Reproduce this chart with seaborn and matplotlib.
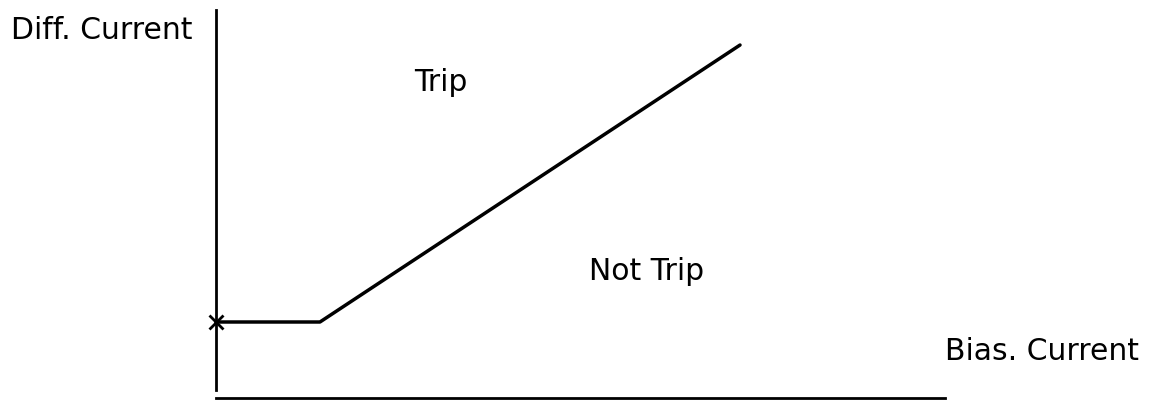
import matplotlib
matplotlib.use("Agg")
import matplotlib.pyplot as plt
import seaborn as sns
import pandas as pd

# Kennlinie: Bias-Strom gegen Differenzstrom
bias_current = [0.0, 1.04, 5.24]
diff_current = [0.76, 0.76, 3.53]

sns.set_style("white")
plt.rcParams['font.family'] = ['DejaVu Sans']
plt.rcParams['text.color'] = 'black'

df = pd.DataFrame({'bias': bias_current, 'diff': diff_current})

fig = plt.figure(figsize=(11.61, 4.01), dpi=100)
ax = fig.add_axes([0.186, 0.0075, 0.628, 0.9675])

sns.lineplot(data=df, x='bias', y='diff', color='black', linewidth=2.5, ax=ax)
ax.plot(bias_current[0], diff_current[0], marker='x', color='black', markersize=10,
        markeredgewidth=2, clip_on=False)

ax.set_xlim(0, 7.29)
ax.set_ylim(0, 3.88)
ax.set_xticks([])
ax.set_yticks([])
ax.set_xlabel('')
ax.set_ylabel('')
for s in ['top', 'right']:
    ax.spines[s].set_visible(False)
ax.spines['left'].set_linewidth(2)
ax.spines['bottom'].set_linewidth(2)
ax.spines['left'].set_color('black')
ax.spines['bottom'].set_color('black')
ax.spines['left'].set_bounds(0.08, 3.88)

ax.text(-0.23, 3.68, 'Diff. Current', ha='right', va='center', fontsize=21.5)
ax.text(7.29, 0.46, 'Bias. Current', ha='left', va='center', fontsize=21.5)
ax.text(2.25, 3.16, 'Trip', ha='center', va='center', fontsize=21.5)
ax.text(4.31, 1.27, 'Not Trip', ha='center', va='center', fontsize=21.5)

fig.savefig('out.png', dpi=100)
